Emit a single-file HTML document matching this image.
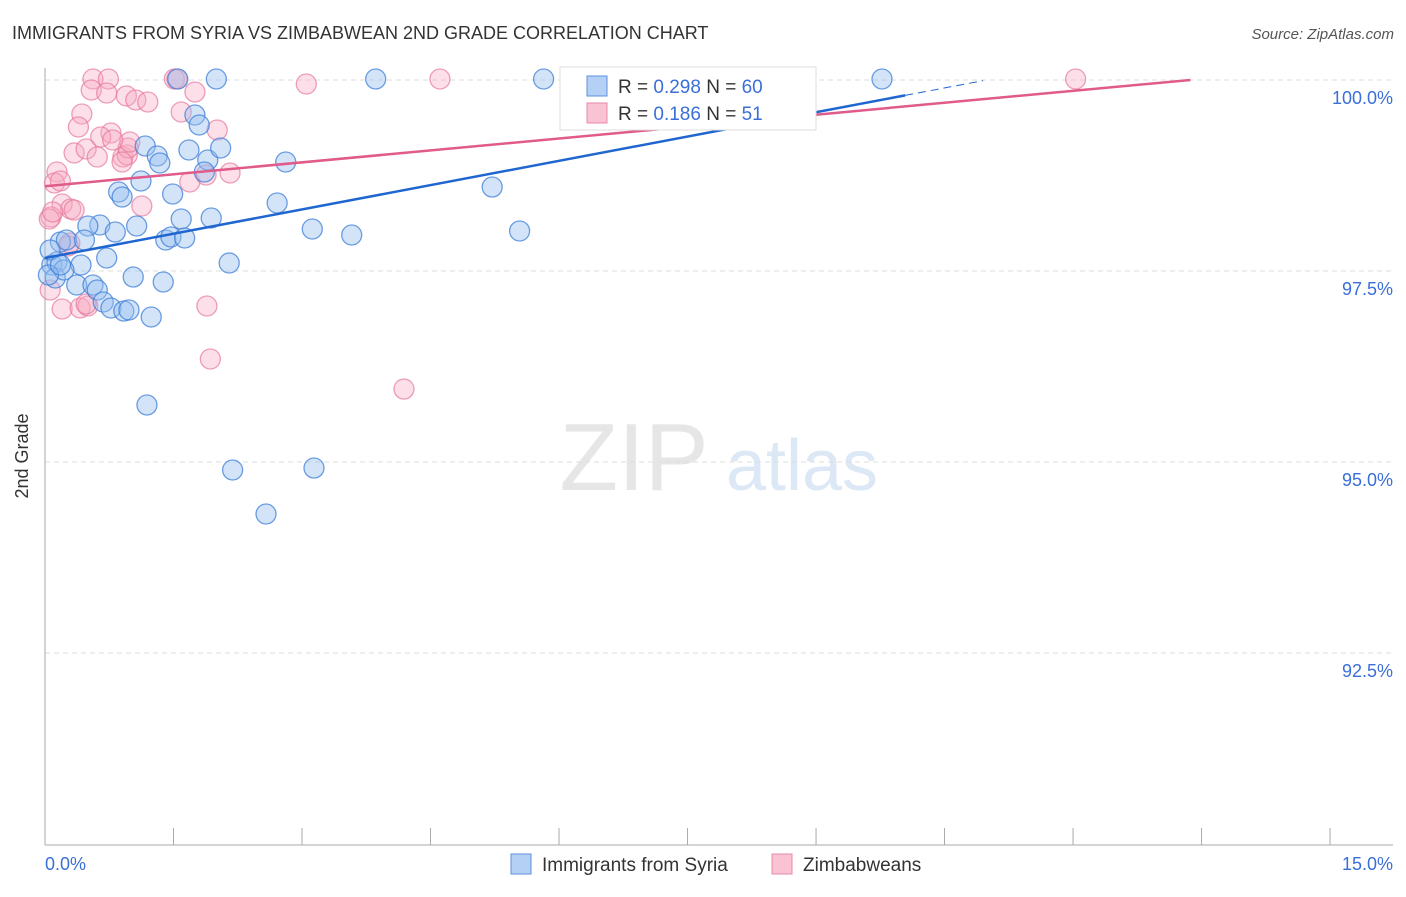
<!DOCTYPE html>
<html><head><meta charset="utf-8"><style>
body{margin:0;background:#fff;font-family:"Liberation Sans",sans-serif}
svg text{font-family:"Liberation Sans",sans-serif}
</style></head><body>
<svg width="1406" height="892" viewBox="0 0 1406 892">
<text x="12" y="39" font-size="18" fill="#333">IMMIGRANTS FROM SYRIA VS ZIMBABWEAN 2ND GRADE CORRELATION CHART</text>
<text x="1394" y="39" font-size="15" fill="#555" text-anchor="end" font-style="italic">Source: ZipAtlas.com</text>
<g>
<text x="634" y="490" font-size="96" fill="#e6e6e6" text-anchor="middle" font-family="Liberation Serif">ZIP</text>
<text x="802" y="490" font-size="72" fill="#dce8f6" text-anchor="middle">atlas</text>
</g>
<g id="grid"></g>
<g id="axes"></g>
<g id="pts"></g>
<g id="lines"></g>
<text x="28" y="456" font-size="18" fill="#333" text-anchor="middle" transform="rotate(-90 28 456)">2nd Grade</text>
<text x="45" y="870" font-size="18" fill="#3a6fd8">0.0%</text>
<text x="1393" y="870" font-size="18" fill="#3a6fd8" text-anchor="end">15.0%</text>
<g>
<rect x="560" y="67" width="256" height="63" fill="#fff" stroke="#ddd"/>
<rect x="587" y="76" width="20" height="20" fill="#b5d0f5" stroke="#5b8fde"/>
<rect x="587" y="103" width="20" height="20" fill="#f9c3d3" stroke="#e98aa8"/>
<text x="618" y="93" font-size="19" fill="#333">R = <tspan fill="#3a6fd8">0.298</tspan>   N = <tspan fill="#3a6fd8">60</tspan></text>
<text x="618" y="120" font-size="19" fill="#333">R = <tspan fill="#3a6fd8"> 0.186</tspan>   N = <tspan fill="#3a6fd8"> 51</tspan></text>
</g>
<g>
<rect x="511" y="854" width="20" height="20" fill="#b5d0f5" stroke="#5b8fde"/>
<text x="542" y="871" font-size="19" fill="#333">Immigrants from Syria</text>
<rect x="772" y="854" width="20" height="20" fill="#f9c3d3" stroke="#e98aa8"/>
<text x="803" y="871" font-size="19" fill="#333">Zimbabweans</text>
</g>
</svg>
<script>
const yTicks=[100,97.5,95,92.5];
const yTickLabels=["100.0%","97.5%","95.0%","92.5%"];
const xTicks=[0,1.5,3,4.5,6,7.5,9,10.5,12,13.5,15];
const syriaPx=[[178,79],[216,79],[376,79],[544,79],[882,79],[195,115],[199,125],[145,146],[157,156],[160,163],[189,150],[208,160],[221,148],[286,162],[204,172],[119,192],[122,197],[141,181],[173,194],[492,187],[277,203],[100,225],[88,226],[115,232],[137,226],[181,219],[211,218],[312,229],[352,235],[520,231],[166,240],[171,237],[185,238],[60,242],[66,240],[84,240],[107,258],[52,265],[57,262],[81,265],[229,263],[133,277],[163,282],[77,285],[93,285],[97,290],[103,302],[111,308],[124,311],[129,310],[151,317],[147,405],[233,470],[314,468],[266,514],[55,278],[50,250],[64,270],[48,275],[60,265]];
const zimPx=[[93,79],[108,79],[174,79],[177,79],[440,79],[1076,79],[306,84],[91,90],[107,93],[126,96],[136,100],[148,102],[82,114],[195,92],[181,112],[78,127],[111,133],[217,130],[101,137],[74,153],[86,149],[97,157],[123,157],[127,155],[128,148],[122,162],[230,173],[190,182],[206,175],[57,172],[54,183],[60,181],[142,206],[62,204],[71,209],[74,210],[51,217],[49,219],[70,243],[68,246],[50,290],[62,309],[80,308],[88,306],[86,304],[207,306],[210,359],[404,389],[130,142],[113,140],[53,212]];
// convert reading positions to data values (percent)
const syriaX=syriaPx.map(p=>+((p[0]-45)/85.67).toFixed(2));
const syriaY=syriaPx.map(p=>+(100-(p[1]-80)/76.4).toFixed(3));
const zimX=zimPx.map(p=>+((p[0]-45)/85.67).toFixed(2));
const zimY=zimPx.map(p=>+(100-(p[1]-80)/76.4).toFixed(3));
const syriaTrend=[97.67,0.212]; // intercept, slope
const zimTrend=[98.61,0.104];
const X=v=>45+v*85.67, Y=v=>80+(100-v)*76.4;
const NS="http://www.w3.org/2000/svg";
function mk(parent,tag,attrs){const e=document.createElementNS(NS,tag);for(const k in attrs)e.setAttribute(k,attrs[k]);document.getElementById(parent).appendChild(e);return e;}
yTicks.forEach((t,i)=>{
 const l=mk('grid','line',{x1:45,x2:1393,y1:Y(t),y2:Y(t),stroke:'#ddd','stroke-dasharray':'5,4'});
 
 
 const tx=mk('grid','text',{x:1393,y:Y(t)+24,'font-size':18,fill:'#3a6fd8','text-anchor':'end'});
 tx.textContent=yTickLabels[i];
 
 
});
const ya=mk('axes','line',{x1:45,x2:45,y1:68,y2:845,stroke:'#aaa'});


const xa=mk('axes','line',{x1:45,x2:1393,y1:845,y2:845,stroke:'#aaa'});


xTicks.forEach(t=>{const l=mk('axes','line',{x1:X(t),x2:X(t),y1:828,y2:845,stroke:'#aaa'});
 
 });
function pts(xs,ys,fill,stroke,name){xs.forEach((x,i)=>{const c=mk('pts','circle',{cx:X(x),cy:Y(ys[i]),r:10,fill:fill,stroke:stroke,'stroke-width':1.3});
 
 });}
pts(zimX,zimY,'rgba(246,170,195,0.38)','rgba(230,120,155,0.7)','zimbabwe-point');
pts(syriaX,syriaY,'rgba(150,190,240,0.42)','rgba(60,125,215,0.75)','syria-point');
function trend(tr,x0,x1,col,name,dash){const l=mk('lines','line',{x1:X(x0),y1:Y(tr[0]+tr[1]*x0),x2:X(x1),y2:Y(tr[0]+tr[1]*x1),stroke:col,'stroke-width':dash?1:2.5});
 if(dash)l.setAttribute('stroke-dasharray','8,5');
 
 }
trend(syriaTrend,0,10.04,'#2066d0','syria-trend-line');
trend(syriaTrend,10.04,10.95,'#2066d0','syria-trend-extension',true);
trend(zimTrend,0,13.37,'#e05a8a','zimbabwe-trend-line');
</script>
</body></html>
